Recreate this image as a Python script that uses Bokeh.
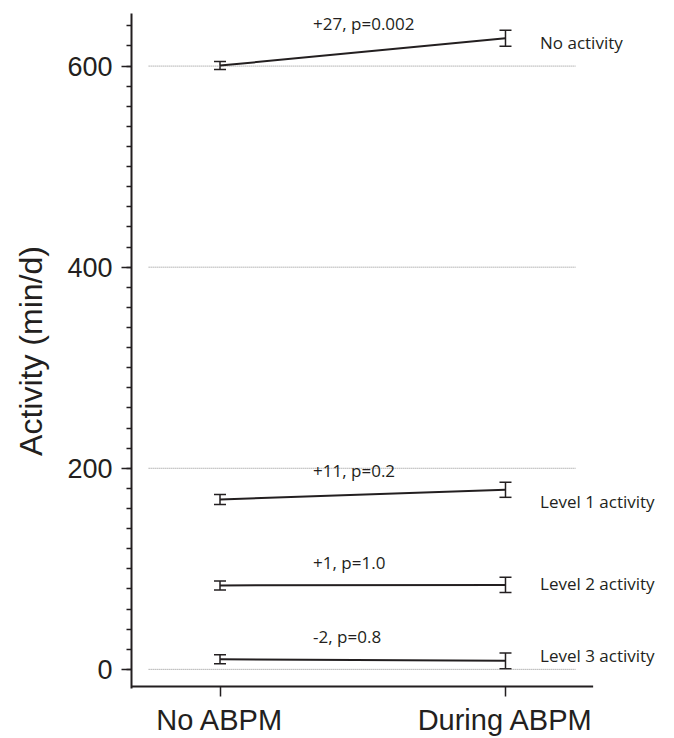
from bokeh.plotting import figure
from bokeh.models import (Range1d, ColumnDataSource, Whisker, TeeHead, FixedTicker,
                          SingleIntervalTicker, LabelSet)
from bokeh.core.properties import value
from bokeh.embed import file_html
from bokeh.resources import INLINE

# ---- data ----
groups = ["No activity", "Level 1 activity", "Level 2 activity", "Level 3 activity"]
x_labels = ["No ABPM", "During ABPM"]
no_abpm = [600.5, 169.0, 83.5, 10.0]
during_abpm = [627.7, 178.6, 84.0, 8.5]
err_no = [4.0, 5.0, 4.5, 4.5]
err_during = [8.0, 7.5, 7.5, 7.8]
change_labels = ["+27, p=0.002", "+11, p=0.2", "+1, p=1.0", "-2, p=0.8"]
y_ticks = [0, 200, 400, 600]

INK = "#231f20"
X_LO, X_HI = -0.31, 1.592      # frame extends to right edge so side labels are not clipped
X_AXIS_END = 1.307             # visible end of the x axis line
Y_LO, Y_HI = -19.04, 652.3
Y_AXIS = -17.05                # position of the drawn x axis line

p = figure(width=674, height=738, output_backend="svg", toolbar_location=None,
           x_range=Range1d(X_LO, X_HI), y_range=Range1d(Y_LO, Y_HI),
           min_border_left=131, min_border_right=0, min_border_top=13, min_border_bottom=48)
p.outline_line_color = None
p.grid.visible = False
p.background_fill_color = "white"

# dotted reference lines
p.segment(x0=[-0.25] * len(y_ticks), x1=[1.245] * len(y_ticks), y0=y_ticks, y1=y_ticks,
          line_color="#8c8c8c", line_width=1, line_dash="1 1")

# x axis line (drawn so it stops before the side labels)
p.segment(x0=[X_LO], x1=[X_AXIS_END], y0=[Y_AXIS], y1=[Y_AXIS], line_color=INK, line_width=2)

# connecting lines
p.segment(x0=[0] * len(groups), x1=[1] * len(groups), y0=no_abpm, y1=during_abpm,
          line_color=INK, line_width=2)

# error bars
xs = [0] * len(groups) + [1] * len(groups)
ys = no_abpm + during_abpm
es = err_no + err_during
src = ColumnDataSource(dict(x=xs, lo=[y - e for y, e in zip(ys, es)], hi=[y + e for y, e in zip(ys, es)]))
w = Whisker(base="x", lower="lo", upper="hi", source=src, dimension="height",
            line_color=INK, line_width=1.5,
            upper_head=TeeHead(size=12, line_color=INK, line_width=1.5),
            lower_head=TeeHead(size=12, line_color=INK, line_width=1.5))
p.add_layout(w)

# annotations
change_src = ColumnDataSource(dict(x=[0.326] * len(groups), y=[642.6, 197.4, 105.9, 32.2], t=change_labels))
group_src = ColumnDataSource(dict(x=[1.121] * len(groups), y=[623.8, 166.7, 85.1, 14.0], t=groups))
for s in (change_src, group_src):
    p.add_layout(LabelSet(x="x", y="y", text="t", source=s,
                          text_font=value("Open Sans"), text_font_size="17px", text_color=INK,
                          text_align="left", text_baseline="middle"))

# y axis
ya = p.yaxis[0]
ya.ticker = SingleIntervalTicker(interval=200, num_minor_ticks=10)
ya.axis_line_color = INK
ya.axis_line_width = 2
ya.major_tick_line_color = INK
ya.major_tick_line_width = 1.5
ya.minor_tick_line_color = INK
ya.minor_tick_line_width = 1.5
ya.major_tick_out = 10
ya.major_tick_in = 0
ya.minor_tick_out = 5
ya.minor_tick_in = 0
ya.major_label_text_font = "Liberation Sans"
ya.major_label_text_font_size = "27px"
ya.major_label_text_color = INK
ya.major_label_standoff = 9
ya.axis_label = "Activity (min/d)"
ya.axis_label_text_font = "Liberation Sans"
ya.axis_label_text_font_size = "32px"
ya.axis_label_text_font_style = "normal"
ya.axis_label_text_color = INK
ya.axis_label_standoff = 15

# x axis (line hidden; ticks and labels kept)
xa = p.xaxis[0]
xa.ticker = FixedTicker(ticks=[0, 1], minor_ticks=[])
xa.major_label_overrides = {0: x_labels[0], 1: x_labels[1]}
xa.axis_line_color = None
xa.major_tick_line_color = INK
xa.major_tick_line_width = 1.5
xa.major_tick_out = 8
xa.major_tick_in = 2
xa.minor_tick_line_color = None
xa.major_label_text_font = "Liberation Sans"
xa.major_label_text_font_size = "29px"
xa.major_label_text_color = INK
xa.major_label_standoff = 7

open("out.html", "w").write(file_html(p, INLINE))
